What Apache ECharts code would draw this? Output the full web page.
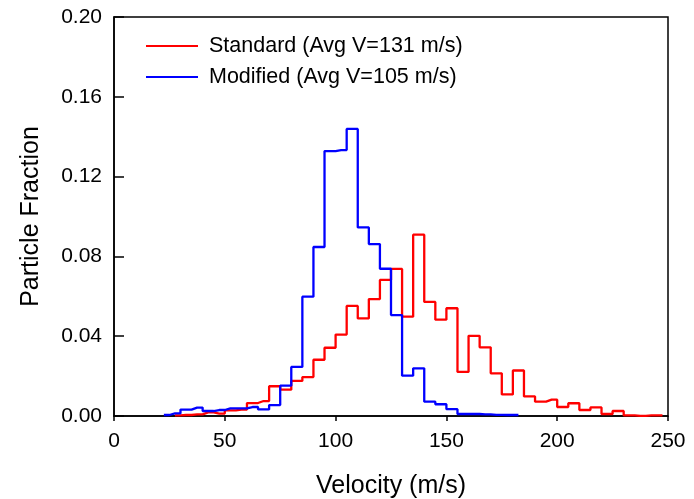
<!DOCTYPE html>
<html>
<head>
<meta charset="utf-8">
<script src="https://cdn.jsdelivr.net/npm/echarts@6/dist/echarts.min.js"></script>
<style>
html, body { margin: 0; padding: 0; background: #fff; }
#main { width: 694px; height: 499px; }
</style>
</head>
<body>
<div id="main"></div>
<script>
// bin centres (m/s), 5 m/s bins
var stdCenters = [27.5, 32.5, 37.5, 42.5, 47.5, 52.5, 57.5, 62.5, 67.5, 72.5, 77.5, 82.5, 87.5, 92.5, 97.5,
    102.5, 107.5, 112.5, 117.5, 122.5, 127.5, 132.5, 137.5, 142.5, 147.5, 152.5, 157.5, 162.5, 167.5, 172.5,
    177.5, 182.5, 187.5, 192.5, 197.5, 202.5, 207.5, 212.5, 217.5, 222.5, 227.5, 232.5, 237.5, 242.5, 247.5];
var stdValues = [0.0003, 0.0005, 0.0008, 0.0018, 0.0012, 0.0028, 0.0032, 0.0065, 0.0075, 0.0149, 0.0132, 0.0176, 0.0195, 0.0282, 0.0342,
    0.0408, 0.0552, 0.0489, 0.0586, 0.0682, 0.0737, 0.0498, 0.0909, 0.0572, 0.0483, 0.0540, 0.0221, 0.0402, 0.0344, 0.0214,
    0.0108, 0.0228, 0.0098, 0.0072, 0.0082, 0.0045, 0.0064, 0.0030, 0.0043, 0.0010, 0.0025, 0.0003, 0.0001, 0.0003, 0.0003];

var modCenters = [22.5, 27.5, 32.5, 37.5, 42.5, 47.5, 52.5, 57.5, 62.5, 67.5, 72.5, 77.5, 82.5, 87.5, 92.5, 97.5,
    102.5, 107.5, 112.5, 117.5, 122.5, 127.5, 132.5, 137.5, 142.5, 147.5, 152.5, 157.5, 162.5, 167.5, 172.5,
    177.5, 182.5];
var modValues = [0.0005, 0.0013, 0.0032, 0.0042, 0.0025, 0.0030, 0.0038, 0.0038, 0.0045, 0.0033, 0.0055, 0.0152, 0.0246, 0.0598, 0.0847, 0.1328,
    0.1333, 0.1439, 0.0945, 0.0862, 0.0738, 0.0506, 0.0202, 0.0239, 0.0072, 0.0059, 0.0034, 0.0010, 0.0010, 0.0008, 0.0006,
    0.0005, 0.0005];

var stdName = "Standard (Avg V=131 m/s)";
var modName = "Modified (Avg V=105 m/s)";

function pairs(xs, ys) {
    var out = [];
    for (var i = 0; i < xs.length; i++) out.push([xs[i], ys[i]]);
    return out;
}

var myChart = echarts.init(document.getElementById('main'));
var font = "Liberation Sans, Arial, sans-serif";

var option = {
    animation: false,
    backgroundColor: '#fff',
    grid: {
        left: 114, right: 26, top: 17, bottom: 83,
        show: true, borderColor: '#000', borderWidth: 1.5,
        containLabel: false,
        outerBoundsMode: 'none'
    },
    legend: {
        left: 141, top: 30,
        orient: 'vertical',
        itemWidth: 52, itemHeight: 2, itemGap: 9,
        icon: 'rect',
        textStyle: { fontFamily: font, fontSize: 21.5, color: '#000', padding: [0, 0, 0, 6] },
        data: [stdName, modName]
    },
    xAxis: {
        type: 'value', min: 0, max: 250, interval: 50,
        name: 'Velocity (m/s)', nameLocation: 'middle', nameGap: 58,
        nameTextStyle: { fontFamily: font, fontSize: 25, color: '#000' },
        axisLine: { show: true, lineStyle: { color: '#000', width: 1.5 } },
        axisTick: { show: true, inside: false, length: 5, lineStyle: { color: '#000', width: 1.5 } },
        axisLabel: { fontFamily: font, fontSize: 21, color: '#000', margin: 15 },
        splitLine: { show: false }
    },
    yAxis: {
        type: 'value', min: 0, max: 0.2, interval: 0.04,
        name: 'Particle Fraction', nameLocation: 'middle', nameGap: 70,
        nameTextStyle: { fontFamily: font, fontSize: 25, color: '#000' },
        axisLine: { show: true, lineStyle: { color: '#000', width: 1.5 } },
        axisTick: { show: true, inside: true, length: 10, lineStyle: { color: '#000', width: 1.5 } },
        axisLabel: {
            fontFamily: font, fontSize: 21, color: '#000', margin: 12,
            formatter: function (v) { return v.toFixed(2); }
        },
        splitLine: { show: false }
    },
    series: [
        {
            name: stdName, type: 'line', step: 'middle',
            data: pairs(stdCenters, stdValues),
            showSymbol: false, symbol: 'none',
            itemStyle: { color: '#ff0000' },
            lineStyle: { color: '#ff0000', width: 2.3 },
            z: 2
        },
        {
            name: modName, type: 'line', step: 'middle',
            data: pairs(modCenters, modValues),
            showSymbol: false, symbol: 'none',
            itemStyle: { color: '#0000ff' },
            lineStyle: { color: '#0000ff', width: 2.3 },
            z: 3
        }
    ]
};
myChart.setOption(option);
</script>
</body>
</html>
